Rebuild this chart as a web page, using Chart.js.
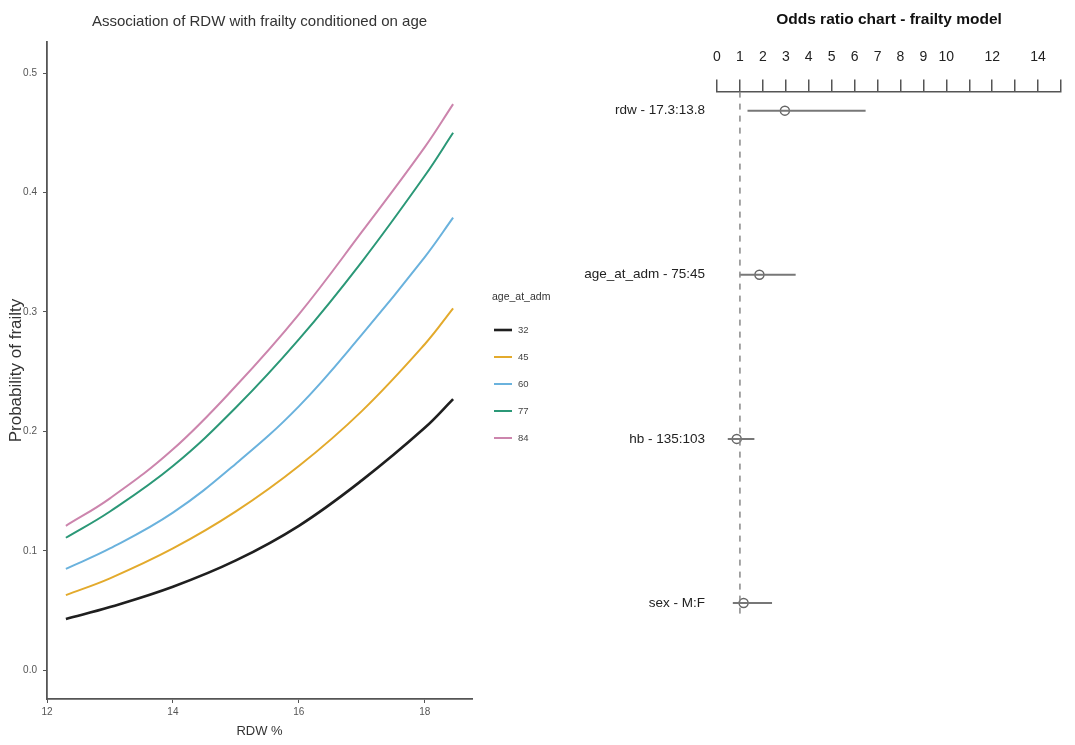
<!DOCTYPE html>
<html>
<head>
<meta charset="utf-8">
<title>RDW and frailty</title>
<script src="https://cdn.jsdelivr.net/npm/chart.js"></script>
<style>
  html, body { margin: 0; padding: 0; background: #fff; }
  #wrap { position: relative; width: 1075px; height: 745px; }
  #leftBox { position: absolute; left: 0; top: 0; width: 560px; height: 745px; }
  #rightBox { position: absolute; left: 540px; top: 0; width: 535px; height: 745px; }
</style>
</head>
<body>
<div id="wrap">
  <div id="leftBox"><canvas id="probChart"></canvas></div>
  <div id="rightBox"><canvas id="orChart"></canvas></div>
</div>
<script>
const FONT = "'Liberation Sans', Arial, sans-serif";

// left panel: predicted probability by RDW, one line per age
const rdwValues = [12.3, 13, 14, 15, 16, 17, 18, 18.45];
const ageGroups = ['32', '45', '60', '77', '84'];
const prob32 = [0.043, 0.053, 0.070, 0.092, 0.121, 0.159, 0.203, 0.227];
const prob45 = [0.063, 0.077, 0.102, 0.133, 0.171, 0.217, 0.273, 0.303];
const prob60 = [0.085, 0.102, 0.132, 0.173, 0.221, 0.281, 0.346, 0.379];
const prob77 = [0.111, 0.133, 0.171, 0.220, 0.277, 0.342, 0.414, 0.450];
const prob84 = [0.121, 0.144, 0.185, 0.238, 0.298, 0.367, 0.438, 0.474];
const ageColors = ['#1f1f1f', '#E3AA2C', '#6AB2DD', '#2B9877', '#CC85AD'];
const legendTitle = 'age_at_adm';

// right panel: odds ratios
const rowLabels = ['rdw - 17.3:13.8', 'age_at_adm - 75:45', 'hb - 135:103', 'sex - M:F'];
const orValues = [2.96, 1.85, 0.86, 1.16];
const ciLow = [1.33, 0.99, 0.47, 0.69];
const ciHigh = [6.48, 3.43, 1.63, 2.40];
const orTickLabels = [0, 1, 2, 3, 4, 5, 6, 7, 8, 9, 10, 12, 14];
const refOR = 1;
const rowMin = -0.116, rowMax = 3.073;

const probSeries = [prob32, prob45, prob60, prob77, prob84];

// legend drawn by hand so the title lines up with the keys like ggplot
const ageLegend = {
  id: 'ageLegend',
  afterDraw(chart) {
    const ctx = chart.ctx;
    const x0 = chart.chartArea.right + 20;
    ctx.save();
    ctx.textBaseline = 'middle';
    ctx.textAlign = 'left';
    ctx.font = '10.5px ' + FONT;
    ctx.fillStyle = '#333';
    ctx.fillText(legendTitle, x0, 297);
    chart.data.datasets.forEach((ds, i) => {
      const y = 330 + i * 27;
      ctx.strokeStyle = ds.borderColor;
      ctx.lineWidth = ds.borderWidth;
      ctx.beginPath();
      ctx.moveTo(x0 + 2, y);
      ctx.lineTo(x0 + 20, y);
      ctx.stroke();
      ctx.font = '9.5px ' + FONT;
      ctx.fillStyle = '#444';
      ctx.fillText(ds.label, x0 + 26, y);
    });
    ctx.restore();
  }
};

new Chart(document.getElementById('probChart'), {
  type: 'line',
  data: {
    datasets: ageGroups.map((age, i) => ({
      label: age,
      data: rdwValues.map((x, j) => ({x: x, y: probSeries[i][j]})),
      borderColor: ageColors[i],
      borderWidth: i === 0 ? 2.6 : 2,
      pointRadius: 0,
      tension: 0.4,
      fill: false
    }))
  },
  options: {
    responsive: true,
    maintainAspectRatio: false,
    animation: false,
    layout: {padding: {left: 0, right: 88, top: 0, bottom: 0}},
    plugins: {
      legend: {display: false},
      tooltip: {enabled: false},
      title: {
        display: true,
        fullSize: false,
        text: 'Association of RDW with frailty conditioned on age',
        color: '#333',
        font: {family: FONT, size: 15, weight: 'normal'},
        padding: {top: 13, bottom: 11}
      }
    },
    scales: {
      x: {
        type: 'linear',
        min: 12,
        max: 18.75,
        afterFit: s => { s.height = 46; },
        border: {display: true, color: '#555', width: 1.8},
        grid: {display: true, drawOnChartArea: false, drawTicks: true, tickLength: 4, color: '#555'},
        ticks: {stepSize: 2, includeBounds: false, color: '#555', padding: 3, font: {family: FONT, size: 10}},
        title: {display: true, text: 'RDW %', color: '#333', font: {family: FONT, size: 13}, padding: {top: 0, bottom: 6}}
      },
      y: {
        min: -0.024,
        max: 0.526,
        afterFit: s => { s.width = 47; },
        border: {display: true, color: '#555', width: 1.8},
        grid: {display: true, drawOnChartArea: false, drawTicks: true, tickLength: 4, color: '#555'},
        ticks: {stepSize: 0.1, includeBounds: false, color: '#555', padding: 6,
                font: {family: FONT, size: 10}, callback: v => v.toFixed(1)},
        title: {display: true, text: 'Probability of frailty', color: '#333', font: {family: FONT, size: 17}, padding: {top: 6, bottom: 0}}
      }
    }
  },
  plugins: [ageLegend]
});

// odds ratio chart
const ciSets = rowLabels.map((lab, i) => ({
  label: lab + ' CI',
  data: [{x: ciLow[i], y: i}, {x: ciHigh[i], y: i}],
  showLine: true,
  borderColor: '#777',
  borderWidth: 2,
  pointRadius: 0
}));

new Chart(document.getElementById('orChart'), {
  type: 'scatter',
  data: {
    datasets: [
      {
        label: 'reference',
        data: [{x: refOR, y: rowMin}, {x: refOR, y: rowMax}],
        showLine: true,
        borderColor: '#888',
        borderWidth: 1.5,
        borderDash: [6, 6],
        pointRadius: 0
      },
      ...ciSets,
      {
        label: 'odds ratio',
        data: orValues.map((v, i) => ({x: v, y: i})),
        pointRadius: 4.5,
        pointBackgroundColor: '#fff',
        pointBorderColor: '#666',
        pointBorderWidth: 1.5
      }
    ]
  },
  options: {
    responsive: true,
    maintainAspectRatio: false,
    animation: false,
    layout: {padding: {left: 0, right: 8, top: 0, bottom: 130}},
    plugins: {
      legend: {display: false},
      tooltip: {enabled: false},
      title: {
        display: true,
        fullSize: false,
        text: 'Odds ratio chart - frailty model',
        color: '#111',
        font: {family: FONT, size: 15.5, weight: 'bold'},
        padding: {top: 10, bottom: 7.4}
      }
    },
    scales: {
      x: {
        type: 'linear',
        position: 'top',
        min: 0,
        max: 15,
        afterFit: s => { s.height = 55.6; },
        border: {display: true, color: '#555', width: 1.5},
        grid: {display: true, drawOnChartArea: false, drawTicks: true, tickLength: 12, color: '#555', lineWidth: 1.5},
        ticks: {
          stepSize: 1,
          autoSkip: false,
          maxRotation: 0,
          color: '#222',
          padding: 14,
          font: {family: FONT, size: 14},
          callback: v => orTickLabels.includes(v) ? String(v) : ''
        }
      },
      y: {
        type: 'linear',
        reverse: true,
        min: rowMin,
        max: rowMax,
        afterFit: s => { s.width = 177; },
        afterBuildTicks: s => { s.ticks = rowLabels.map((_, i) => ({value: i})); },
        border: {display: false},
        grid: {display: false, drawTicks: false},
        ticks: {
          autoSkip: false,
          color: '#222',
          padding: 12,
          font: {family: FONT, size: 13.5},
          callback: v => rowLabels[v]
        }
      }
    }
  }
});
</script>
</body>
</html>
